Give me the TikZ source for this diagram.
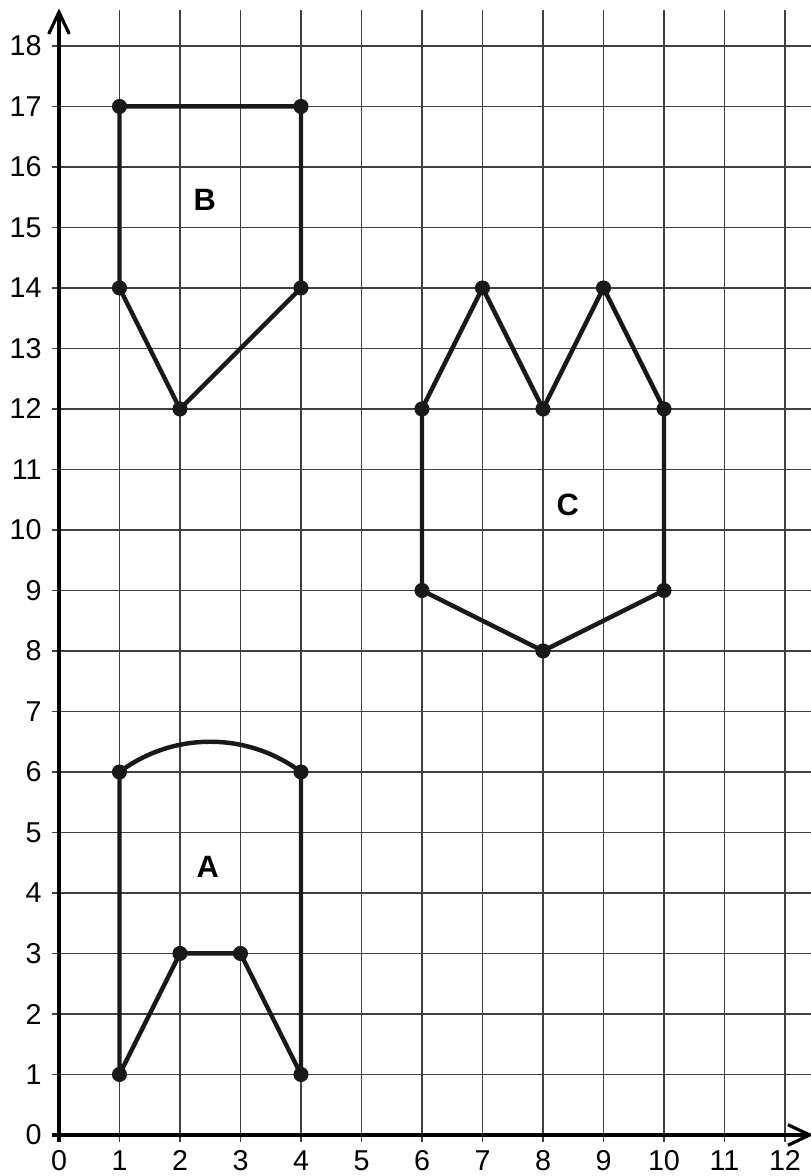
\documentclass[tikz,border=0pt]{standalone}
\usepackage{fontspec}
\setmainfont{Liberation Sans}
\usetikzlibrary{arrows.meta}
\begin{document}
\begin{tikzpicture}[x=1cm,y=1cm,
  gridline/.style={black!75,line width=0.7pt},
  axisline/.style={black,line width=1.5pt},
  shapeline/.style={black!90,line width=2.1pt,line join=round},
  vdot/.style={circle,fill=black!90,inner sep=0pt,minimum size=0.25cm},
  ticklabel/.style={font=\fontsize{13.5}{15}\selectfont,inner sep=0pt},
  shapelabel/.style={font=\fontsize{14.5}{16}\selectfont\bfseries,inner sep=0pt}]
\useasboundingbox (-0.975,-0.678) rectangle (12.43,18.76);
% grid
\foreach \i in {1,...,12} \draw[gridline] (\i,-0.12) -- (\i,18.6);
\foreach \j in {1,...,18} \draw[gridline] (-0.12,\j) -- (12.5,\j);
% axes
\draw[axisline,-{Straight Barb[length=0.36cm,width=0.34cm,line width=1.5pt]}] (0,-0.12) -- (0,18.62);
\draw[axisline,-{Straight Barb[length=0.36cm,width=0.34cm,line width=1.5pt]}] (-0.12,0) -- (12.47,0);
% labels
\foreach \j in {0,...,18} \node[ticklabel,anchor=east] (ly\j) at (-0.28,\j) {\j};
\foreach \i in {0,...,12} \node[ticklabel,anchor=base] (lx\i) at (\i,-0.58) {\i};
% shape A
\coordinate (a1) at (1,1); \coordinate (a2) at (2,3); \coordinate (a3) at (3,3);
\coordinate (a4) at (4,1); \coordinate (a5) at (4,6); \coordinate (a6) at (1,6);
\draw[shapeline] (a6) -- (a1) -- (a2) -- (a3) -- (a4) -- (a5) arc[start angle=53.13,end angle=126.87,radius=2.5];
% shape B
\coordinate (b1) at (1,17); \coordinate (b2) at (4,17); \coordinate (b3) at (4,14);
\coordinate (b4) at (2,12); \coordinate (b5) at (1,14);
\draw[shapeline] (b1) -- (b2) -- (b3) -- (b4) -- (b5) -- cycle;
% shape C
\coordinate (c1) at (6,12); \coordinate (c2) at (7,14); \coordinate (c3) at (8,12);
\coordinate (c4) at (9,14); \coordinate (c5) at (10,12); \coordinate (c6) at (10,9);
\coordinate (c7) at (8,8); \coordinate (c8) at (6,9);
\draw[shapeline] (c1) -- (c2) -- (c3) -- (c4) -- (c5) -- (c6) -- (c7) -- (c8) -- cycle;
% dots
\foreach \p in {a1,a2,a3,a4,a5,a6,b1,b2,b3,b4,b5,c1,c2,c3,c4,c5,c6,c7,c8}
  \node[vdot] (d\p) at (\p) {};
% shape labels
\node[shapelabel] (labA) at (2.46,4.43) {A};
\node[shapelabel] (labB) at (2.41,15.45) {B};
\node[shapelabel] (labC) at (8.41,10.41) {C};
\end{tikzpicture}
\end{document}
